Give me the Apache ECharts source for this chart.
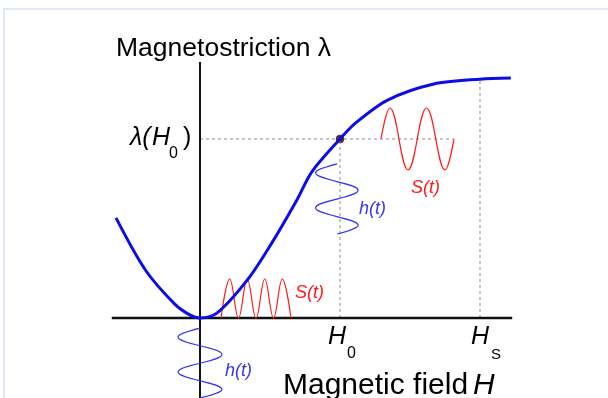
<!DOCTYPE html>
<html>
<head>
<meta charset="utf-8">
<script src="https://cdn.jsdelivr.net/npm/echarts@6/dist/echarts.min.js"></script>
<style>
  html, body { margin: 0; padding: 0; background: #fff; }
  #chart { width: 608px; height: 398px; }
</style>
</head>
<body>
<div id="chart"></div>
<script>
// field H in units of H0, striction in units of saturation
const H0 = 1.0;
const HS = 2.0;
const LAMBDA_H0 = 0.746;

// lambda(H) curve
const curvePoints = [
  [-0.60, 0.417], [-0.39, 0.200], [-0.18, 0.058], [-0.07, 0.012], [0, 0],
  [0.12, 0.020], [0.34, 0.160], [0.51, 0.310], [0.69, 0.490], [0.80, 0.610],
  [1.00, 0.746], [1.11, 0.812], [1.34, 0.908], [1.67, 0.975], [2.00, 0.995],
  [2.22, 1.000]
];

// driving field h(t) around H = 0 (drawn downwards along the lambda axis)
const hWaveZero = [
  [0, -0.042], [-0.157, -0.079], [0.157, -0.152], [-0.157, -0.225],
  [0.157, -0.298], [0, -0.333]
];
// driving field h(t) around H0
const hWaveH0 = [
  [0.98, 0.642], [0.825, 0.605], [1.13, 0.532], [0.825, 0.459],
  [1.13, 0.386], [0.98, 0.350]
];
// response S(t) at H = 0 (frequency doubled)
const sWaveZero = [
  [0.15, 0], [0.2125, 0.1625], [0.275, 0], [0.3375, 0.1625], [0.40, 0],
  [0.4625, 0.1625], [0.525, 0], [0.5875, 0.1625], [0.65, 0]
];
// response S(t) at H0
const sWaveH0 = [
  [1.293, 0.746], [1.357, 0.875], [1.486, 0.617], [1.618, 0.875],
  [1.750, 0.617], [1.814, 0.746]
];

// axis extents
const hAxisLine = [[-0.63, 0], [2.23, 0]];
const lambdaAxisLine = [[0, -0.34], [0, 1.067]];

const X_MIN = -200 / 140, X_MAX = 408 / 140;
const Y_MIN = -80 / 240, Y_MAX = 318 / 240;

const chart = echarts.init(document.getElementById('chart'));

const FONT = 'Liberation Sans, Arial, sans-serif';
function txt(x, y, text, size, opts) {
  opts = opts || {};
  return {
    type: 'text', silent: true,
    style: {
      x: x, y: y, text: text,
      font: (opts.italic ? 'italic ' : '') + size + 'px ' + FONT,
      fill: opts.color || '#000',
      textAlign: opts.align || 'left',
      textVerticalAlign: 'bottom'
    }
  };
}

function line(data, color, width, extra) {
  return Object.assign({
    type: 'line', data: data, symbol: 'none', silent: true,
    lineStyle: { color: color, width: width }
  }, extra || {});
}

const dash = { color: '#8c8c8c', width: 1, type: [3, 3] };

chart.setOption({
  animation: false,
  grid: { left: 0, right: 0, top: 0, bottom: 0 },
  xAxis: { type: 'value', min: X_MIN, max: X_MAX, show: false },
  yAxis: { type: 'value', min: Y_MIN, max: Y_MAX, show: false },
  series: [
    Object.assign(line([[0, LAMBDA_H0], [1.807, LAMBDA_H0]], '#8c8c8c', 1), { lineStyle: dash }),
    Object.assign(line([[H0, 0], [H0, LAMBDA_H0]], '#8c8c8c', 1), { lineStyle: dash }),
    Object.assign(line([[HS, 0], [HS, 0.992]], '#8c8c8c', 1), { lineStyle: dash }),
    line(hAxisLine, '#111', 2.5),
    line(lambdaAxisLine, '#111', 2),
    line(sWaveZero, '#ff1a1a', 1.2, { smooth: 0.4 }),
    line(sWaveH0, '#ff1a1a', 1.2, { smooth: 0.4 }),
    line(hWaveZero, '#3535f5', 1.2, { smooth: 0.4 }),
    line(hWaveH0, '#3535f5', 1.2, { smooth: 0.4 }),
    line(curvePoints, '#0c0ce6', 3, { smooth: 0.3 }),
    {
      type: 'scatter', silent: true, symbolSize: 8,
      itemStyle: { color: '#100000', borderColor: '#800000', borderWidth: 0.5 },
      data: [[H0, LAMBDA_H0]]
    }
  ],
  graphic: [
    {
      type: 'rect', silent: true,
      shape: { x: 4, y: 9, width: 700, height: 500 },
      style: { fill: 'none', stroke: '#dfe9f4', lineWidth: 2 }
    },
    txt(116, 62, 'Magnetostriction λ', 26.5),
    txt(130, 151, 'λ(', 25, { italic: true }),
    txt(152, 151, 'H', 25, { italic: true }),
    txt(169, 162, '0', 16),
    txt(183, 151, ')', 25),
    txt(328, 350, 'H', 25, { italic: true }),
    txt(347, 362, '0', 16),
    txt(471, 350, 'H', 25, { italic: true }),
    txt(491, 362, 'S', 15),
    txt(283, 401, 'Magnetic field', 30),
    txt(473, 401, 'H', 30, { italic: true }),
    txt(295, 302, 'S(t)', 18, { italic: true, color: '#ff1a1a' }),
    txt(411, 197, 'S(t)', 18, { italic: true, color: '#ff1a1a' }),
    txt(359, 218, 'h(t)', 18, { italic: true, color: '#3535f5' }),
    txt(225, 380, 'h(t)', 18, { italic: true, color: '#3535f5' })
  ]
});
</script>
</body>
</html>
